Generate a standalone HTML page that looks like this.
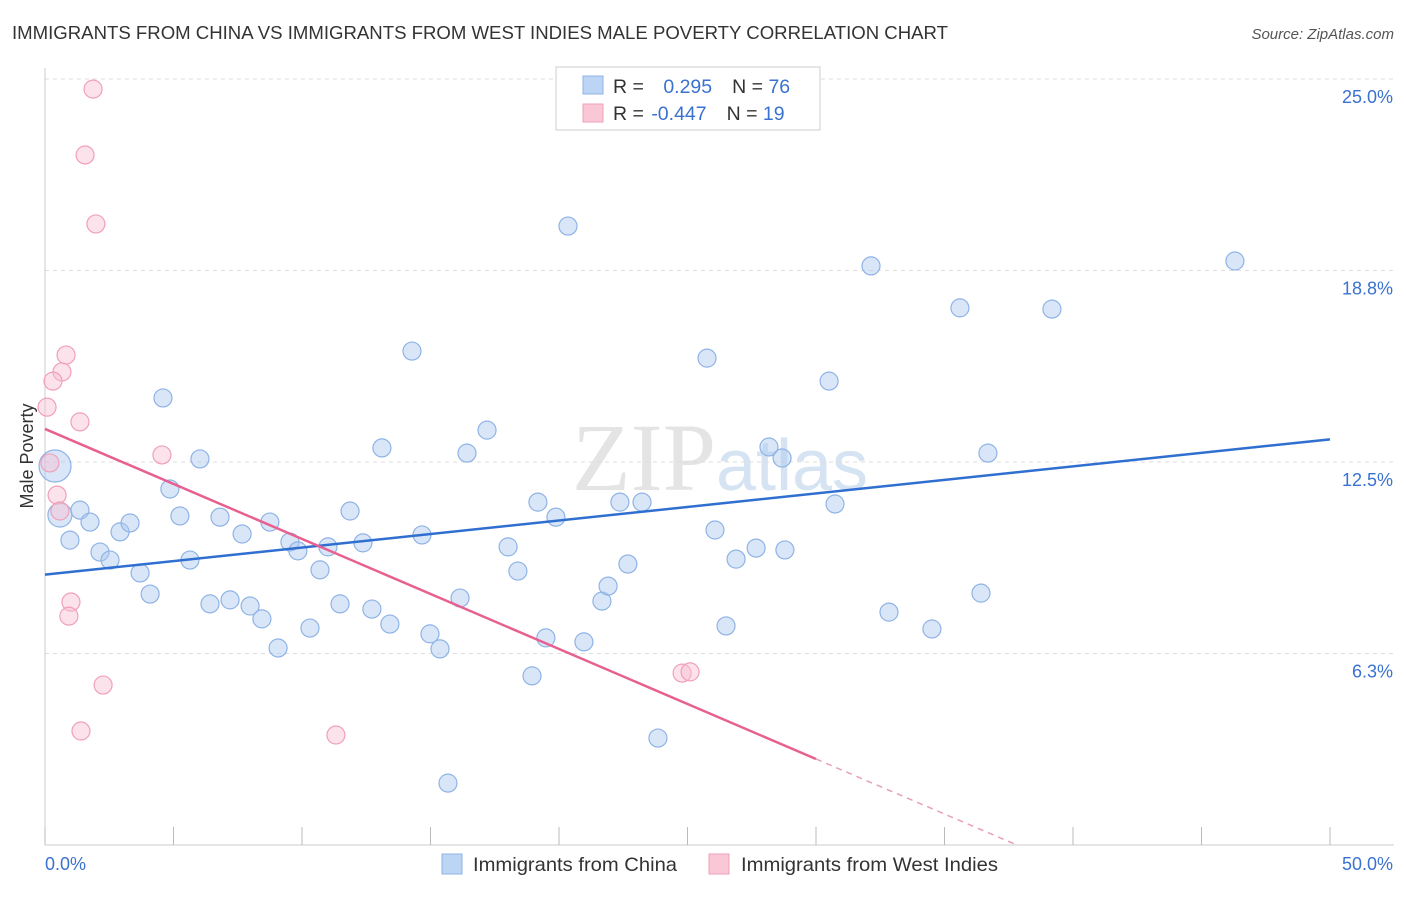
<!DOCTYPE html>
<html><head><meta charset="utf-8"><style>
body{margin:0;background:#fff;font-family:"Liberation Sans",sans-serif;}
</style></head><body>
<svg id="chart" width="1406" height="892" xmlns="http://www.w3.org/2000/svg" font-family="Liberation Sans, sans-serif">
<text x="12" y="39" font-size="18.5" fill="#333" textLength="936" lengthAdjust="spacingAndGlyphs">IMMIGRANTS FROM CHINA VS IMMIGRANTS FROM WEST INDIES MALE POVERTY CORRELATION CHART</text>
<text x="1394" y="39" font-size="15" fill="#555" text-anchor="end" font-style="italic">Source: ZipAtlas.com</text>
<text x="720" y="490" font-size="96" text-anchor="middle" fill="#e4e4e4" font-family="Liberation Serif, serif">ZIP<tspan fill="#d5e3f3" font-family="Liberation Sans, sans-serif" font-size="72">atlas</tspan></text>
<g id="grid"></g><g id="axes"></g><g id="pts"></g><g id="lines"></g>
<text transform="translate(33,456) rotate(-90)" font-size="18" fill="#333" text-anchor="middle">Male Poverty</text>
<g>
<rect x="556" y="67" width="264" height="63" fill="#fff" stroke="#ccc"/>
<rect x="583" y="76" width="20" height="18" fill="#bdd5f5" stroke="#8fb3e6"/>
<rect x="583" y="104" width="20" height="18" fill="#f9c7d6" stroke="#f0a0b8"/>
<text x="613" y="93" font-size="19.5" fill="#333">R = <tspan fill="#3a72d0" dx="14">0.295</tspan><tspan dx="20">N = </tspan><tspan fill="#3a72d0">76</tspan></text>
<text x="613" y="120" font-size="19.5" fill="#333">R = <tspan fill="#3a72d0" dx="2">-0.447</tspan><tspan dx="20">N = </tspan><tspan fill="#3a72d0">19</tspan></text>
</g>
<g>
<rect x="442" y="854" width="20" height="20" fill="#bdd5f5" stroke="#8fb3e6"/>
<text x="473" y="871" font-size="19.5" fill="#333" textLength="204" lengthAdjust="spacingAndGlyphs">Immigrants from China</text>
<rect x="709" y="854" width="20" height="20" fill="#f9c7d6" stroke="#f0a0b8"/>
<text x="741" y="871" font-size="19.5" fill="#333" textLength="257" lengthAdjust="spacingAndGlyphs">Immigrants from West Indies</text>
</g>
</svg>
<script>
const chinaX=[0.39,0.58,0.97,1.36,1.75,2.14,2.53,2.92,3.31,3.70,4.09,4.59,4.86,5.25,5.64,6.03,6.42,6.81,7.20,7.67,7.98,8.44,8.75,9.07,9.53,9.84,10.31,10.70,11.01,11.48,11.87,12.37,12.72,13.11,13.42,14.28,14.67,14.98,15.37,15.68,16.15,16.42,17.20,18.02,18.40,18.95,19.18,19.49,19.88,20.35,20.97,21.67,21.91,22.37,22.68,23.23,23.85,25.76,26.07,26.50,26.89,27.67,28.17,28.68,28.79,30.51,30.74,32.14,32.84,34.51,35.60,36.42,36.69,39.18,46.30];
const chinaY=[12.37,10.77,9.95,10.93,10.54,9.56,9.30,10.22,10.51,8.88,8.19,14.59,11.62,10.74,9.30,12.60,7.87,10.70,8.00,10.15,7.80,7.38,10.54,6.43,9.89,9.60,7.08,8.98,9.73,7.87,10.90,9.86,7.70,12.96,7.21,16.12,10.12,6.89,6.40,2.02,8.06,12.79,13.54,9.73,8.94,5.52,11.19,6.76,10.70,20.20,6.63,7.96,8.45,11.19,9.17,11.19,3.49,15.89,10.28,7.15,9.33,9.69,12.99,12.63,9.63,15.14,11.13,18.90,7.60,7.05,17.53,8.22,12.79,17.49,19.06];
const wiX=[1.87,1.56,1.98,0.82,0.66,0.31,0.08,1.36,0.19,0.47,0.58,4.55,1.01,0.93,2.26,1.40,11.32,24.79,25.10];
const wiY=[24.67,22.52,20.27,15.99,15.44,15.14,14.29,13.81,12.47,11.42,10.90,12.73,7.93,7.47,5.22,3.72,3.59,5.61,5.65];
const xTicks=[0,5,10,15,20,25,30,35,40,45,50];
const yTicks=[6.25,12.5,18.75,25];
const yTickLabels=["6.3%","12.5%","18.8%","25.0%"];
const xs=v=>45+v*25.7, ys=v=>845-v*30.64;
const NS="http://www.w3.org/2000/svg";
function mk(tag,at,parent){const e=document.createElementNS(NS,tag);for(const k in at)e.setAttribute(k,at[k]);document.getElementById(parent).appendChild(e);return e;}
yTicks.forEach((t,i)=>{
 const g=mk('line',{x1:45,x2:1394,y1:ys(t),y2:ys(t),stroke:'#ddd','stroke-dasharray':'4,4'},'grid');
 
 
 const l=mk('text',{x:1393,y:ys(t)+24,'font-size':18,fill:'#3a72d0','text-anchor':'end'},'axes');
 l.textContent=yTickLabels[i];
 
 
});
const ax=mk('line',{x1:45,x2:1394,y1:845,y2:845,stroke:'#ccc'},'axes');


const ay=mk('line',{x1:45,x2:45,y1:68,y2:845,stroke:'#ccc'},'axes');


xTicks.forEach(t=>{const e=mk('line',{x1:xs(t),x2:xs(t),y1:827,y2:845,stroke:'#bbb'},'axes');
 
 });
const x0=mk('text',{x:45,y:870,'font-size':18,fill:'#3a72d0'},'axes');x0.textContent='0.0%';


const x1=mk('text',{x:1393,y:870,'font-size':18,fill:'#3a72d0','text-anchor':'end'},'axes');x1.textContent='50.0%';


chinaX.forEach((v,i)=>{const r=i==0?16:i==1?12:9;
 const c=mk('circle',{cx:xs(v),cy:ys(chinaY[i]),r:r,fill:'rgba(170,200,240,0.45)',stroke:'#8fb3e6','stroke-width':1.2},'pts');
 
 });
wiX.forEach((v,i)=>{
 const c=mk('circle',{cx:xs(v),cy:ys(wiY[i]),r:9,fill:'rgba(248,190,210,0.45)',stroke:'#f0a0b8','stroke-width':1.2},'pts');
 
 });
function fit(X,Y){const n=X.length;let mx=0,my=0;X.forEach((x,i)=>{mx+=x;my+=Y[i]});mx/=n;my/=n;let sxy=0,sxx=0;X.forEach((x,i)=>{sxy+=(x-mx)*(Y[i]-my);sxx+=(x-mx)**2});const b=sxy/sxx;return [my-b*mx,b];}
const [ca,cb]=fit(chinaX,chinaY);
const bl=mk('line',{x1:xs(0),y1:ys(ca),x2:xs(50),y2:ys(ca+cb*50),stroke:'#2f6fd0','stroke-width':2.5},'lines');


const [wa,wb]=fit(wiX,wiY);
const pl=mk('line',{x1:xs(0),y1:ys(wa),x2:xs(30),y2:ys(wa+wb*30),stroke:'#e8608f','stroke-width':2.5},'lines');


const xe=Math.min(50,wb<0?-wa/wb:50);
const pd=mk('line',{x1:xs(30),y1:ys(wa+wb*30),x2:xs(xe),y2:ys(wa+wb*xe),stroke:'#e8a0b8','stroke-width':1.5,'stroke-dasharray':'6,5'},'lines');


</script>
</body></html>
